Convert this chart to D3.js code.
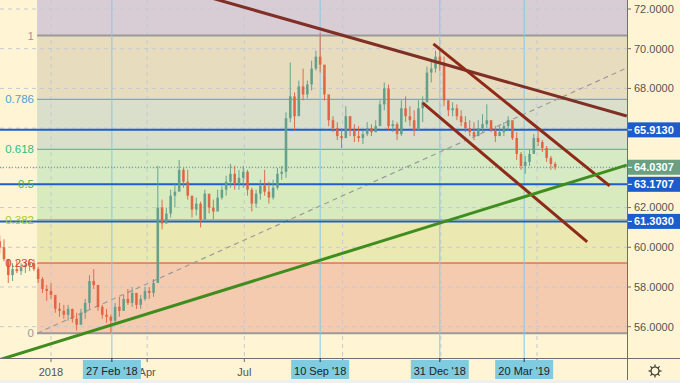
<!DOCTYPE html>
<html><head><meta charset="utf-8">
<script src="https://cdn.jsdelivr.net/npm/d3@7"></script>
<style>html,body{margin:0;padding:0;background:#fff4d3;}svg{display:block;font-family:"Liberation Sans",Arial,sans-serif;}</style>
</head><body>
<svg id="c" width="680" height="383"></svg>
<script>
// ---- data ----
const barStart = "2017-11-14";   // first bar date; bars are spaced 4 days apart
const barStepDays = 4;
const firstOpen = 60.3;
const highs = [60.6,60.4,59.3,59.2,59.3,59.2,59.3,59.4,59.4,59.0,58.5,58.1,58.2,57.5,57.2,57.1,57.1,56.9,56.7,56.9,57.4,58.6,58.9,58.1,57.1,56.9,56.6,57.2,57.5,57.6,57.9,58.0,57.7,57.6,58.0,58.0,58.4,64.1,62.4,62.0,62.9,63.2,64.4,64.0,63.9,62.5,62.5,62.3,62.9,62.6,62.4,62.9,63.1,63.6,64.2,64.1,63.9,64.1,63.9,63.0,62.9,63.4,63.9,63.3,63.4,64.0,64.1,66.8,69.3,67.8,68.4,69.0,68.4,69.4,69.9,70.8,68.6,67.6,66.6,66.3,66.0,67.1,66.6,66.2,66.1,65.9,66.3,66.2,66.4,67.4,68.3,68.2,66.4,66.3,67.4,67.6,67.1,66.9,67.4,67.6,69.1,69.4,69.9,70.0,69.6,67.4,67.3,67.2,66.9,66.6,66.4,66.3,66.4,66.7,67.2,66.4,66.1,66.1,66.3,66.6,66.2,65.8,64.8,64.6,64.9,65.7,65.9,65.4,65.1,64.6,64.3];
const lows  = [59.7,59.3,58.2,58.3,58.7,58.6,58.7,58.8,58.8,58.2,57.7,57.3,57.4,56.7,56.5,56.4,56.3,56.2,55.8,56.1,56.4,56.9,57.9,56.8,56.4,56.2,55.7,56.2,56.5,56.8,57.1,57.0,56.9,56.9,57.3,57.4,57.5,58.3,60.9,61.2,61.5,62.0,62.9,63.0,62.4,61.5,61.6,61.0,61.9,61.7,61.4,62.0,62.4,62.6,63.0,62.9,62.9,63.0,62.6,61.8,62.0,62.4,62.6,62.2,62.4,62.9,63.4,63.5,66.3,65.9,66.8,67.4,67.5,67.9,68.9,68.8,67.4,66.1,65.8,65.4,65.0,65.5,65.6,65.3,65.3,65.2,65.6,65.6,65.8,66.2,66.9,65.9,65.8,65.4,65.6,66.3,66.1,65.6,66.2,66.3,67.4,68.3,68.8,68.9,67.1,66.6,66.6,66.4,66.1,65.8,65.6,65.4,65.6,65.8,66.0,65.8,65.3,65.6,65.6,65.9,65.4,64.4,63.9,63.7,64.1,64.8,65.1,64.8,64.3,63.9,63.9];
const closes= [60.0,59.4,58.6,58.9,58.8,59.0,59.1,59.2,58.9,58.4,57.9,57.8,57.6,56.9,56.8,56.6,56.9,56.4,56.1,56.7,57.2,58.3,58.1,57.0,56.6,56.5,56.3,57.0,56.8,57.4,57.2,57.7,57.1,57.4,57.8,57.7,58.2,62.0,61.2,61.7,62.6,62.8,63.9,63.3,62.6,61.9,62.2,61.4,62.7,62.0,61.8,62.5,62.9,63.3,63.7,63.2,63.5,63.8,62.9,62.2,62.7,63.1,62.8,62.5,63.0,63.7,63.8,66.5,67.6,66.6,68.1,67.7,68.2,69.0,69.6,69.2,67.7,66.4,66.0,65.6,65.5,66.6,65.9,65.6,65.5,65.7,66.0,65.8,66.1,67.2,68.0,66.1,66.2,65.7,67.0,66.6,66.4,65.9,67.0,67.3,68.8,69.0,69.6,69.3,67.4,66.9,67.0,66.6,66.3,66.0,65.8,65.6,66.0,66.2,66.4,65.9,65.6,65.8,66.1,66.4,65.5,64.7,64.1,64.3,64.7,65.5,65.3,65.0,64.5,64.2,64.03];

const fibStartDate = "2017-12-19";
const fibLow = 55.67, fibHigh = 70.66;
const fibLevels = [0, 0.236, 0.382, 0.5, 0.618, 0.786, 1];
const fibLabels = ["0", "0.236", "0.382", "0.5", "0.618", "0.786", "1"];
const fibLineColors = ["#9a9a9a", "#d9412e", "#9fcb3a", "#4caf50", "#33bd80", "#4f9fd8", "#9a9a9a"];
const fibZoneColors = ["#f5cbb0", "#ebe9b1", "#d8ebbf", "#d6ebc3", "#d9dfcb", "#e8dcbe", "#d8ccd5"];
const fibTopLevel = 1.618;

const hLevels = [65.9130, 63.1707, 61.3030];
const lastPrice = 64.0307;

const yTicks = [56, 58, 60, 62, 64, 66, 68, 70, 72];
const xTickDates = ["2018-01-01", "2018-04-01", "2018-07-01", "2018-10-01", "2019-01-01", "2019-04-01"];
const xTickLabels = ["2018", "Apr", "Jul", "Oct", "2019", "Apr"];

const markDates = ["2018-02-27", "2018-09-10", "2018-12-31", "2019-03-20"];
const markLabels = ["27 Feb '18", "10 Sep '18", "31 Dec '18", "20 Mar '19"];

// trend lines: [date1, price1, date2, price2]
const resistanceLine = ["2018-05-25", 72.65, "2019-06-24", 66.61];
const channelUpper   = ["2018-12-25", 70.24, "2019-06-08", 63.09];
const channelLower   = ["2018-12-15", 67.27, "2019-05-18", 60.27];
const supportLine    = ["2017-11-14", 54.34, "2019-06-24", 64.14];
const fibTrendLine   = ["2017-12-19", 55.67, "2019-06-24", 69.03];

// ---- drawing ----
const parse = d3.timeParse("%Y-%m-%d");
const svg = d3.select("#c");
const W = 680, H = 383, plotR = 627, plotB = 358;
const x = d3.scaleTime().domain([parse("2018-01-01"), parse("2019-04-01")]).range([51, 537]);
const y = d3.scaleLinear().domain([56, 72]).range([326.7, 9]);

svg.append("rect").attr("width", W).attr("height", H).attr("fill", "#fff4d3");
svg.append("defs").append("clipPath").attr("id", "pc")
  .append("rect").attr("x", 0).attr("y", 0).attr("width", plotR).attr("height", plotB);
const g = svg.append("g").attr("clip-path", "url(#pc)");

const fibPrice = l => fibLow + l * (fibHigh - fibLow);
const fx0 = x(parse(fibStartDate));
// zones
const zoneBounds = fibLevels.concat([fibTopLevel]);
for (let i = 0; i < zoneBounds.length - 1; i++) {
  const yt = y(fibPrice(zoneBounds[i + 1])), yb = y(fibPrice(zoneBounds[i]));
  g.append("rect").attr("x", fx0).attr("y", yt).attr("width", plotR - fx0).attr("height", yb - yt)
    .attr("fill", fibZoneColors[i]);
}
// grid
const gridC = "#c6c8d3";
yTicks.forEach(v => g.append("line").attr("x1", 0).attr("x2", plotR).attr("y1", y(v)).attr("y2", y(v))
  .attr("stroke", gridC).attr("stroke-dasharray", "4,4"));
xTickDates.forEach(d => g.append("line").attr("x1", x(parse(d))).attr("x2", x(parse(d))).attr("y1", 0).attr("y2", plotB)
  .attr("stroke", gridC).attr("stroke-dasharray", "4,4"));
// fib lines
fibLevels.forEach((l, i) => {
  const yy = y(fibPrice(l));
  g.append("line").attr("x1", fx0).attr("x2", plotR).attr("y1", yy).attr("y2", yy)
    .attr("stroke", fibLineColors[i]).attr("stroke-width", (l === 0 || l === 1) ? 2 : 1);
});
// fib trend dashed
const seg = a => g.append("line").attr("x1", x(parse(a[0]))).attr("y1", y(a[1]))
  .attr("x2", x(parse(a[2]))).attr("y2", y(a[3]));
seg(fibTrendLine).attr("stroke", "#9b9b9b").attr("stroke-width", 1.2).attr("stroke-dasharray", "5,4");
// vertical markers
markDates.forEach(d => g.append("line").attr("x1", x(parse(d))).attr("x2", x(parse(d))).attr("y1", 0).attr("y2", plotB)
  .attr("stroke", "#86c9e6").attr("stroke-width", 1));
// horizontal blue levels
hLevels.forEach(v => g.append("line").attr("x1", 0).attr("x2", plotR).attr("y1", y(v)).attr("y2", y(v))
  .attr("stroke", "#1f5fc9").attr("stroke-width", 2));
// last price dotted
g.append("line").attr("x1", 0).attr("x2", plotR).attr("y1", y(lastPrice)).attr("y2", y(lastPrice))
  .attr("stroke", "#5f9a7c").attr("stroke-width", 1).attr("stroke-dasharray", "1,2");

// candles
const start = parse(barStart);
const bars = closes.map((c, i) => ({
  d: d3.timeDay.offset(start, i * barStepDays),
  o: i === 0 ? firstOpen : closes[i - 1], h: highs[i], l: lows[i], c: c
}));
const upC = "#5e9c8a", dnC = "#e0603f";
const cg = g.append("g");
bars.forEach(b => {
  const col = b.c >= b.o ? upC : dnC;
  const cx = x(b.d);
  cg.append("line").attr("x1", cx).attr("x2", cx).attr("y1", y(b.h)).attr("y2", y(b.l))
    .attr("stroke", col).attr("stroke-width", 1).attr("opacity", 0.9);
  const yt = y(Math.max(b.o, b.c)), yb = y(Math.min(b.o, b.c));
  cg.append("rect").attr("x", cx - 1.3).attr("y", yt).attr("width", 2.6).attr("height", Math.max(1, yb - yt))
    .attr("fill", col).attr("opacity", 0.9);
});

// trend lines
seg(resistanceLine).attr("stroke", "#7f2f25").attr("stroke-width", 3);
seg(channelUpper).attr("stroke", "#8e2a17").attr("stroke-width", 3);
seg(channelLower).attr("stroke", "#8e2a17").attr("stroke-width", 3);
seg(supportLine).attr("stroke", "#3f8d1e").attr("stroke-width", 3);

// fib labels
fibLevels.forEach((l, i) => {
  svg.append("text").attr("x", 34).attr("y", y(fibPrice(l))).attr("dy", "0.35em")
    .attr("text-anchor", "end").attr("font-size", 11.5).attr("fill", fibLineColors[i]).text(fibLabels[i]);
});

// axes lines
svg.append("line").attr("x1", 0).attr("x2", W).attr("y1", plotB + 0.5).attr("y2", plotB + 0.5).attr("stroke", "#6e6e6e");
svg.append("line").attr("x1", plotR + 0.5).attr("x2", plotR + 0.5).attr("y1", 0).attr("y2", H).attr("stroke", "#6e6e6e");

// y axis ticks (labels hidden where a price box covers them, as in the reference)
const boxLevels = hLevels.concat([lastPrice]);
yTicks.forEach(v => {
  svg.append("line").attr("x1", plotR).attr("x2", plotR + 4).attr("y1", y(v)).attr("y2", y(v)).attr("stroke", "#6e6e6e");
  const covered = boxLevels.some(b => Math.abs(y(b) - y(v)) < 12);
  if (!covered) svg.append("text").attr("x", 634).attr("y", y(v)).attr("dy", "0.35em").attr("font-size", 11)
    .attr("fill", "#555").text(v.toFixed(4));
});
// price boxes
const box = (v, col) => {
  const yy = y(v);
  svg.append("rect").attr("x", plotR + 1).attr("y", yy - 7.5).attr("width", W - plotR - 1).attr("height", 15).attr("fill", col);
  svg.append("line").attr("x1", plotR + 1).attr("x2", plotR + 5).attr("y1", yy).attr("y2", yy).attr("stroke", "#fff");
  svg.append("text").attr("x", 634).attr("y", yy).attr("dy", "0.35em").attr("font-size", 11)
    .attr("font-weight", "bold").attr("fill", "#fff").text(v.toFixed(4));
};
box(hLevels[0], "#1c5ccc");
box(lastPrice, "#6a9f82");
box(hLevels[1], "#1c5ccc");
box(hLevels[2], "#1c5ccc");

// x axis ticks (labels hidden under marker boxes, as in the reference)
const markX = markDates.map(d => x(parse(d)));
xTickDates.forEach((d, i) => {
  const xx = x(parse(d));
  svg.append("line").attr("x1", xx).attr("x2", xx).attr("y1", plotB).attr("y2", plotB + 4).attr("stroke", "#6e6e6e");
  const covered = markX.some(m => Math.abs(m - xx) < 30);
  if (!covered) svg.append("text").attr("x", xx).attr("y", 376).attr("text-anchor", "middle").attr("font-size", 11)
    .attr("fill", "#555").text(xTickLabels[i]);
});
// marker boxes
markDates.forEach((d, i) => {
  const xx = x(parse(d));
  svg.append("rect").attr("x", xx - 29).attr("y", 360).attr("width", 58).attr("height", 19).attr("fill", "#7fcbe0");
  svg.append("line").attr("x1", xx).attr("x2", xx).attr("y1", plotB).attr("y2", 362).attr("stroke", "#333");
  svg.append("text").attr("x", xx).attr("y", 375).attr("text-anchor", "middle").attr("font-size", 11)
    .attr("fill", "#222").text(markLabels[i]);
});
// bottom strip
svg.append("rect").attr("x", 0).attr("y", 380).attr("width", W).attr("height", 3).attr("fill", "#efefef");
// gear icon
const gear = svg.append("g").attr("transform", "translate(655,371)");
gear.append("circle").attr("r", 4).attr("fill", "none").attr("stroke", "#333").attr("stroke-width", 1.2);
d3.range(8).forEach(k => {
  const a = k * Math.PI / 4;
  gear.append("line").attr("x1", 4 * Math.cos(a)).attr("y1", 4 * Math.sin(a))
    .attr("x2", 6.5 * Math.cos(a)).attr("y2", 6.5 * Math.sin(a)).attr("stroke", "#333").attr("stroke-width", 1.2);
});
</script>
</body></html>
